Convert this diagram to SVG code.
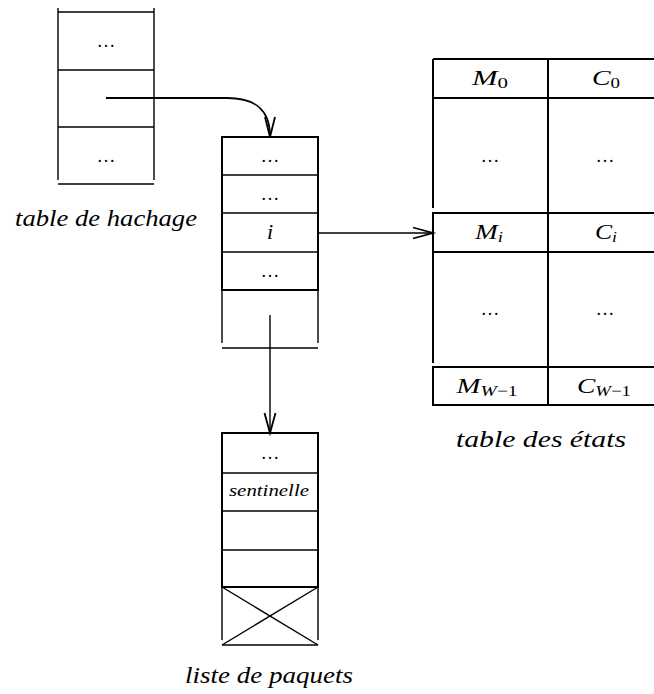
<svg xmlns="http://www.w3.org/2000/svg" width="654" height="694" viewBox="0 0 654 694">
<style>
.ln{stroke:#000;stroke-width:1.4;fill:none}
.bx{stroke:#000;stroke-width:2;fill:none}
.ar{stroke:#000;stroke-width:1.8;fill:none;stroke-linejoin:miter}
text{font-family:"Liberation Serif","Times New Roman",serif;font-style:italic;fill:#000}
.dots{font-size:18px;text-anchor:middle;font-style:normal}
.lab{font-size:22px;text-anchor:middle}
.cap{font-size:23px}
.sub{font-size:15px;font-style:normal}
.subi{font-size:15px;font-style:italic}
</style>
<rect width="654" height="694" fill="#fff"/>

<g id="hash-table">
  <line class="ln" x1="58" y1="8" x2="58" y2="180"/>
  <line class="ln" x1="154" y1="8" x2="154" y2="180"/>
  <line class="ln" x1="58" y1="12" x2="154" y2="12"/>
  <line class="ln" x1="58" y1="70" x2="154" y2="70"/>
  <line class="ln" x1="58" y1="127" x2="154" y2="127"/>
  <line class="ln" x1="58" y1="184" x2="154" y2="184"/>
  <text class="dots" x="106" y="47" textLength="17" lengthAdjust="spacing">...</text>
  <text class="dots" x="106" y="162" textLength="17" lengthAdjust="spacing">...</text>
  <text class="cap" x="15" y="226" textLength="182" lengthAdjust="spacingAndGlyphs">table de hachage</text>
</g>

<g id="bucket-list">
  <rect class="bx" x="222" y="137" width="96" height="153"/>
  <line class="ln" x1="222" y1="175" x2="318" y2="175"/>
  <line class="ln" x1="222" y1="213" x2="318" y2="213"/>
  <line class="ln" x1="222" y1="252" x2="318" y2="252"/>
  <line class="ln" x1="222" y1="290" x2="222" y2="343"/>
  <line class="ln" x1="318" y1="290" x2="318" y2="343"/>
  <line class="ln" x1="222" y1="348" x2="318" y2="348"/>
  <text class="dots" x="270" y="162" textLength="17" lengthAdjust="spacing">...</text>
  <text class="dots" x="270" y="200" textLength="17" lengthAdjust="spacing">...</text>
  <text class="lab" x="270" y="239">i</text>
  <text class="dots" x="270" y="277" textLength="17" lengthAdjust="spacing">...</text>
</g>

<g id="state-table">
  <line class="bx" x1="433" y1="59" x2="660" y2="59"/>
  <line class="bx" x1="433" y1="98" x2="660" y2="98"/>
  <line class="bx" x1="433" y1="59" x2="433" y2="208"/>
  <line class="bx" x1="548" y1="59" x2="548" y2="405"/>
  <rect class="bx" x="433" y="213" width="230" height="39"/>
  <line class="bx" x1="433" y1="252" x2="433" y2="363"/>
  <rect class="bx" x="433" y="367" width="230" height="38"/>
  <text class="lab" x="490" y="85" textLength="36" lengthAdjust="spacingAndGlyphs">M<tspan class="sub" dy="3">0</tspan></text>
  <text class="lab" x="606" y="85" textLength="28" lengthAdjust="spacingAndGlyphs">C<tspan class="sub" dy="3">0</tspan></text>
  <text class="dots" x="490" y="162" textLength="17" lengthAdjust="spacing">...</text>
  <text class="dots" x="605" y="162" textLength="17" lengthAdjust="spacing">...</text>
  <text class="lab" x="489" y="239" textLength="28" lengthAdjust="spacingAndGlyphs">M<tspan class="subi" dy="3">i</tspan></text>
  <text class="lab" x="606" y="239" textLength="22" lengthAdjust="spacingAndGlyphs">C<tspan class="subi" dy="3">i</tspan></text>
  <text class="dots" x="490" y="315" textLength="17" lengthAdjust="spacing">...</text>
  <text class="dots" x="605" y="315" textLength="17" lengthAdjust="spacing">...</text>
  <text class="lab" x="487" y="393" textLength="61" lengthAdjust="spacingAndGlyphs">M<tspan class="subi" dy="3">W</tspan><tspan class="sub">−1</tspan></text>
  <text class="lab" x="604" y="393" textLength="54" lengthAdjust="spacingAndGlyphs">C<tspan class="subi" dy="3">W</tspan><tspan class="sub">−1</tspan></text>
  <text class="cap" x="456" y="447" textLength="170" lengthAdjust="spacingAndGlyphs">table des états</text>
</g>

<g id="packet-list">
  <rect class="bx" x="222" y="433" width="96" height="154"/>
  <line class="ln" x1="222" y1="473" x2="318" y2="473"/>
  <line class="ln" x1="222" y1="511" x2="318" y2="511"/>
  <line class="ln" x1="222" y1="550" x2="318" y2="550"/>
  <line class="ln" x1="222" y1="587" x2="222" y2="640"/>
  <line class="ln" x1="318" y1="587" x2="318" y2="640"/>
  <line class="ln" x1="222" y1="645" x2="318" y2="645"/>
  <line class="ln" x1="222" y1="587" x2="318" y2="645"/>
  <line class="ln" x1="318" y1="587" x2="222" y2="645"/>
  <text class="dots" x="270" y="459" textLength="17" lengthAdjust="spacing">...</text>
  <text x="229" y="496" font-size="17" textLength="80" lengthAdjust="spacingAndGlyphs">sentinelle</text>
  <text class="cap" x="185" y="683" textLength="168" lengthAdjust="spacingAndGlyphs">liste de paquets</text>
</g>

<g id="connectors">
  <path class="ar" stroke-width="2.2" d="M106,98 L227,98 C256,98 270,110 270,136"/>
  <path class="ar" stroke-width="2.2" d="M265,117 L270,137 L275,117"/>
  <line class="ln" x1="318" y1="233" x2="432" y2="233"/>
  <path class="ar" d="M413,227.5 L433,233 L413,238.5"/>
  <line class="ln" x1="270" y1="315" x2="270" y2="432"/>
  <path class="ar" d="M264.5,413 L270,433 L275.5,413"/>
</g>
</svg>
